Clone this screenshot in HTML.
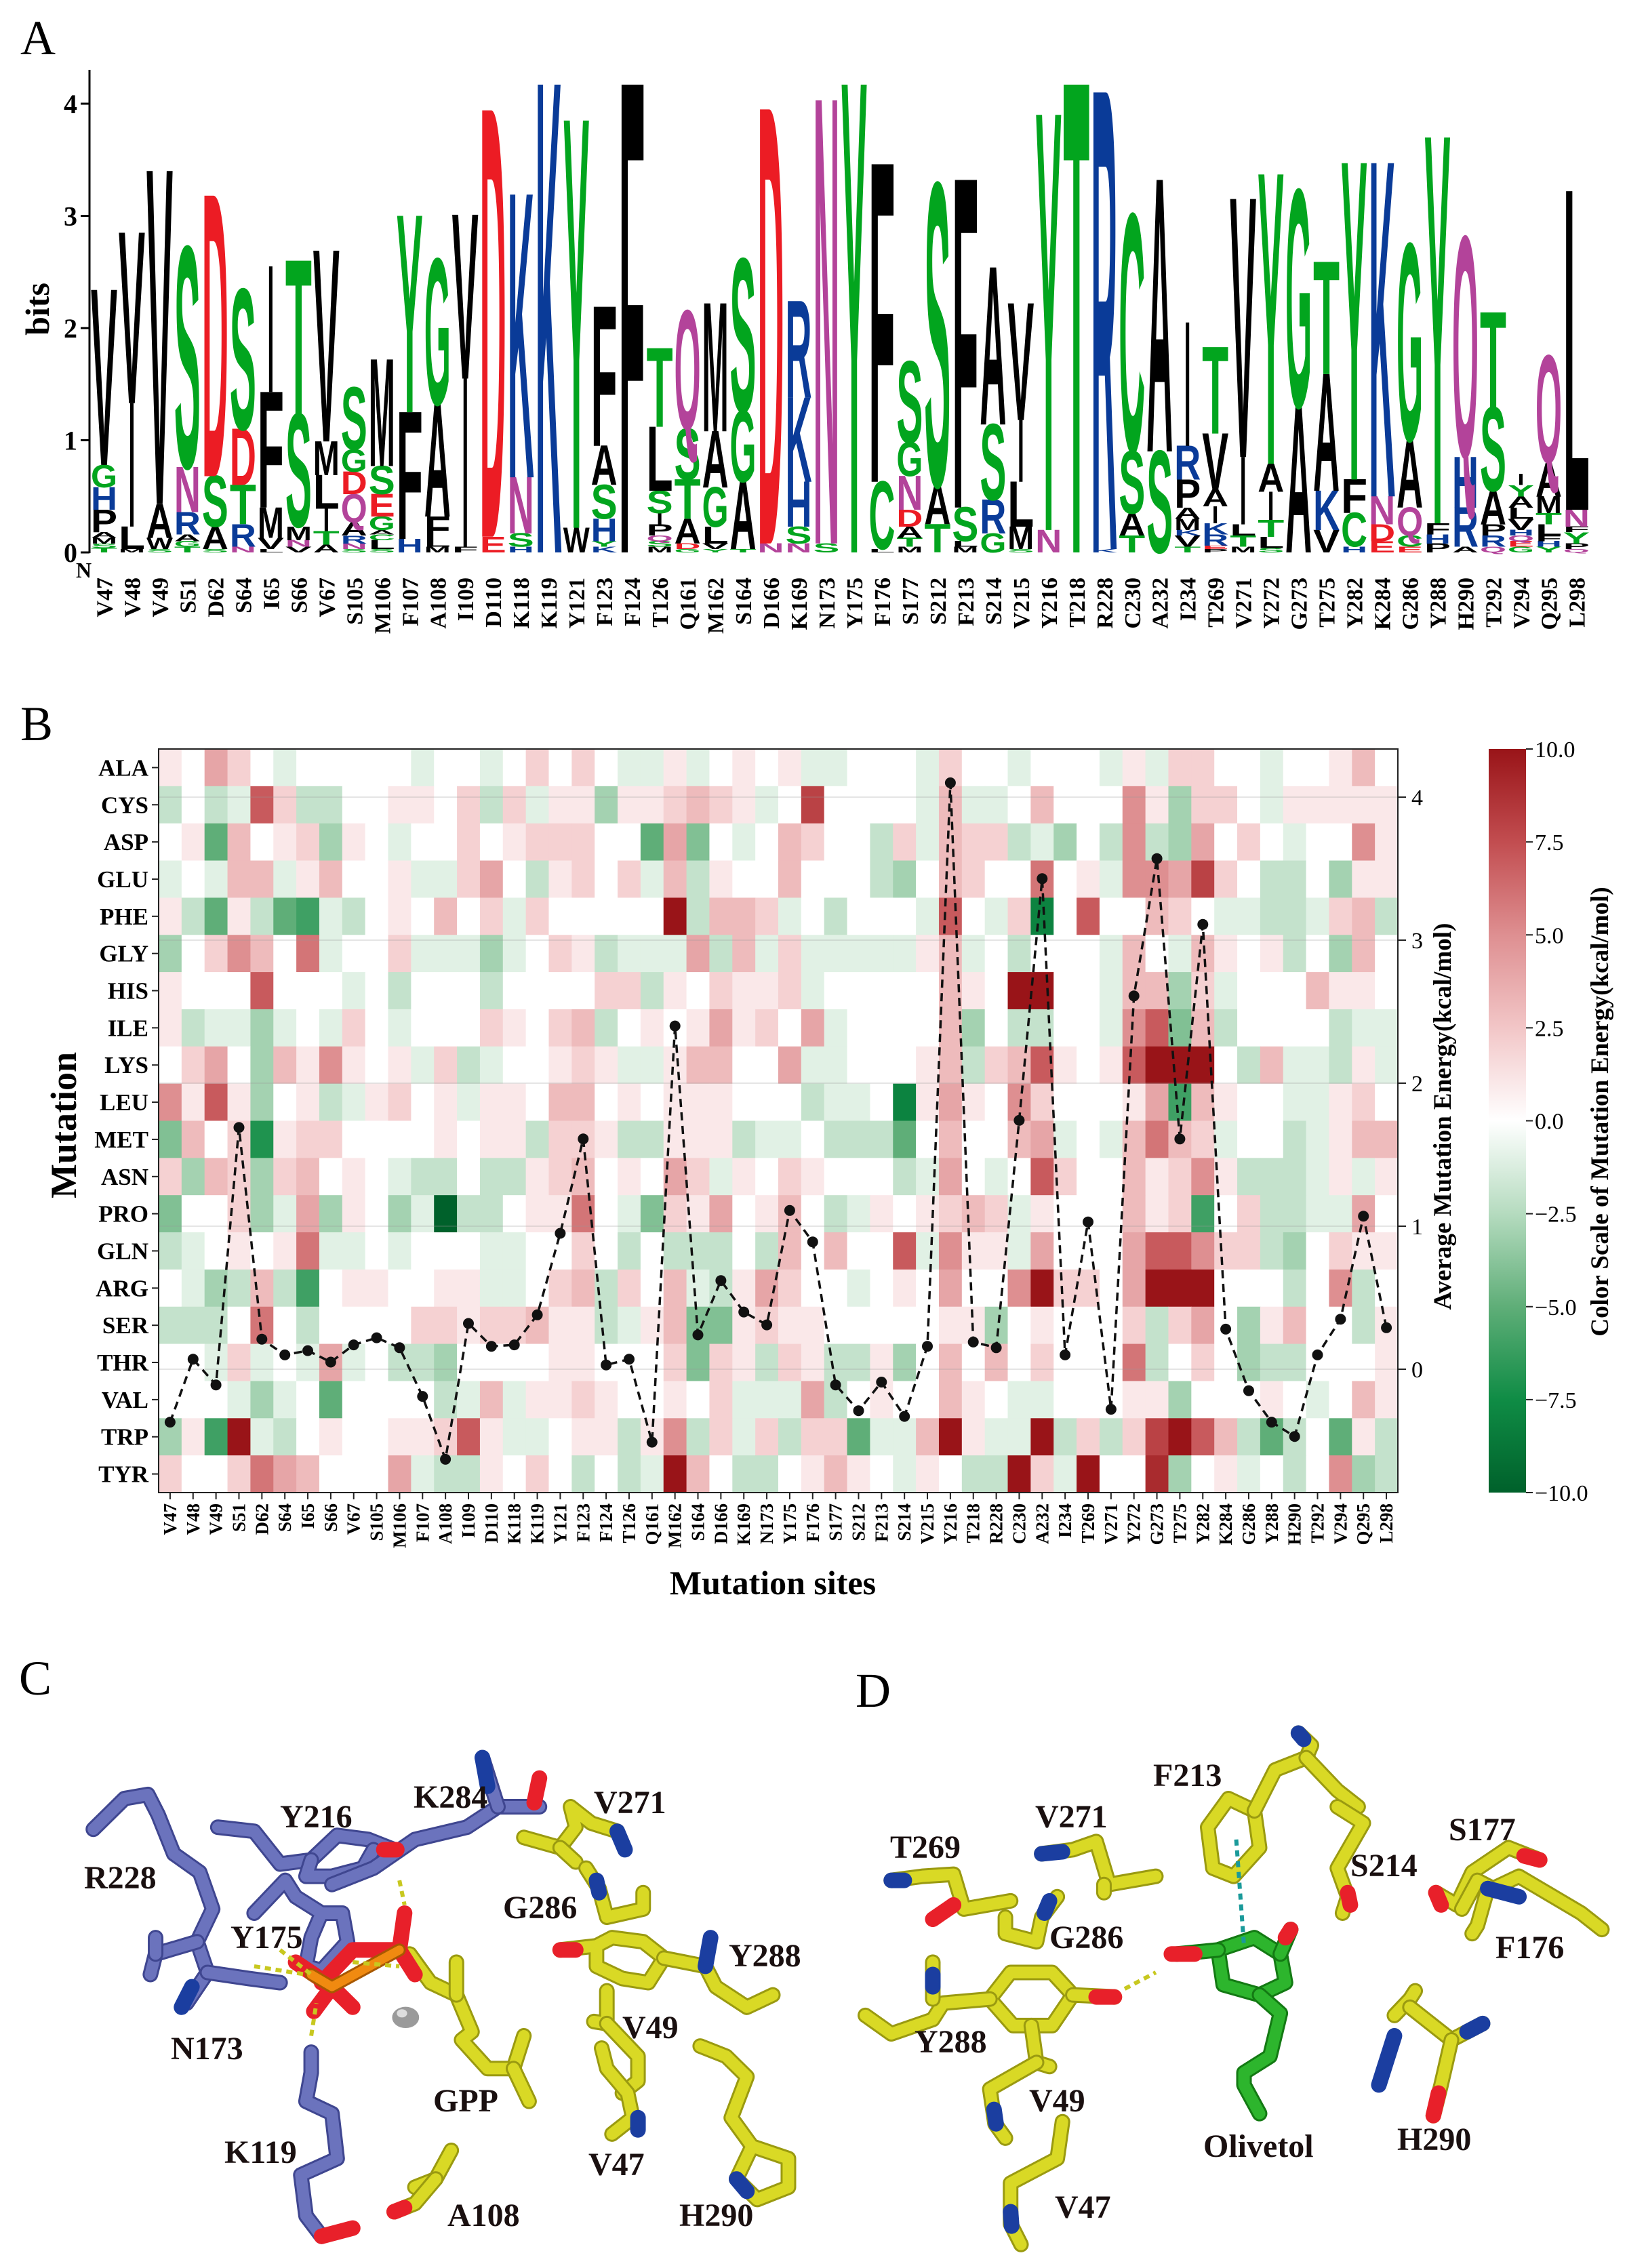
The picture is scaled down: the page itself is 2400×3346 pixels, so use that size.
<!DOCTYPE html>
<html><head><meta charset="utf-8"><style>
html,body{margin:0;padding:0;background:#fff;}
svg{display:block;}
</style></head><body>
<svg id="s" xmlns="http://www.w3.org/2000/svg" width="2400" height="3346" viewBox="0 0 2400 3346"></svg>
<script>
(function(){
const names="V47 V48 V49 S51 D62 S64 I65 S66 V67 S105 M106 F107 A108 I109 D110 K118 K119 Y121 F123 F124 T126 Q161 M162 S164 D166 K169 N173 Y175 F176 S177 S212 F213 S214 V215 Y216 T218 R228 C230 A232 I234 T269 V271 Y272 G273 T275 Y282 K284 G286 Y288 H290 T292 V294 Q295 L298".split(" ");
const logo=["T.04 S.04 M.05 A.05 P.2 H.2 G.2 V1.56","M.03 L.2 I1.1 V1.52","S.03 W.1 A.3 V2.97","T.05 G.05 A.06 R.2 N.4 S1.95","S.03 A.2 S.45 D2.5","N.05 R.2 T.35 D.5 S1.24","L.03 V.1 M.27 F1.03 I1.12","V.05 N.06 M.12 S1.0 T1.37","A.07 T.12 I.2 L.3 M.3 V1.7","S.03 N.05 R.07 A.12 Q.25 D.2 G.2 S.55","S.03 L.08 C.05 A.04 G.12 E.2 S.25 M.95","H.12 F1.13 Y1.75","M.05 L.07 F.2 A1.0 G1.29","F.05 I1.5 V1.46","E.14 D3.8","H.05 S.12 N.5 K2.52","K4.17","W.22 Y3.63","K.05 Y.05 H.2 S.3 A.35 F1.24","F4.17","M.05 S.05 Q.05 P.1 I.1 S.2 L.57 T.7","G.03 D.05 A.22 T.35 S.45 Q1.05","Y.03 V.05 L.15 G.35 A.5 M1.14","T.03 A.6 G.63 S1.35","N.08 D3.87","N.08 S.15 H.4 K.75 R.86","S.08 N3.95","Y4.17","L.03 C.6 F2.83","M.05 T.08 A.1 D.15 N.3 G.3 S.72","T.25 A.35 S2.67","M.05 L.05 S.3 F2.92","G.17 R.3 S.67 A1.4","S.03 M.2 L.4 I.55 V1.04","N.2 Y3.7","T4.17","K.03 R4.07","T.15 A.2 S.55 C2.1","S.9 A2.42","T.05 V.1 K.05 M.1 A.1 P.25 R.3 I1.1","P.03 E.03 R.1 K.1 I.15 A.15 V.5 T.77","M.05 T.1 L.1 I.6 V2.3","S.04 L.1 T.15 I.25 A.25 Y2.58","A1.3 G1.92","V.2 K.35 A1.04 T1.0","H.05 C.3 F.3 Y2.82","E.1 D.15 N.25 K2.97","E.05 C.1 Q.25 A.6 G1.74","P.08 H.08 F.1 Y3.44","A.05 R.35 H.45 Q1.95","Q.05 R.1 P.1 A.3 S.74 T.85","G.05 E.05 Q.05 H.05 V.1 L.1 A.1 Y.1 I.1","Y.05 H.05 F.05 L.1 T.1 M.15 A.3 Q.95","Q.03 P.05 Y.1 F.05 N.15 L2.84"];
function col(c){if("GSTYC".includes(c))return"#02a51e";if("NQ".includes(c))return"#b3439a";if("KRH".includes(c))return"#0a3b98";if("DE".includes(c))return"#ec1c24";return"#000";}
let o='<rect width="2400" height="3346" fill="#fff"/>';
const F='font-family="Liberation Serif,serif"';
const FS='font-family="Liberation Sans,sans-serif"';
o+=`<text x="30" y="80" ${F} font-size="72">A</text>`;
const X0=134,P=40.98,W=39,B0=815,BIT=165.5,CAP=68.8;
logo.forEach((s,i)=>{let y=B0;s.split(" ").forEach(t=>{const c=t[0],b=parseFloat(t.slice(1));const h=b*BIT;if(h<1.5)return;const w=c=="I"?W*0.25:W;const x=X0+i*P+(W-w)/2;
o+=`<text transform="translate(${x.toFixed(1)},${y.toFixed(1)}) scale(${(w/100).toFixed(4)},${(h/CAP).toFixed(4)})" ${FS} font-weight="bold" font-size="100" textLength="100" lengthAdjust="spacingAndGlyphs" fill="${col(c)}">${c}</text>`;y-=h;});});
o+=`<line x1="132" y1="103" x2="132" y2="816" stroke="#000" stroke-width="3"/>`;
for(let k=0;k<=4;k++){const y=B0-k*BIT;o+=`<line x1="119" y1="${y}" x2="132" y2="${y}" stroke="#000" stroke-width="3"/><text x="114" y="${y+14}" ${F} font-weight="bold" font-size="40" text-anchor="end">${k}</text>`;}
o+=`<text transform="translate(72,456) rotate(-90)" ${F} font-weight="bold" font-size="50" text-anchor="middle">bits</text>`;
o+=`<text x="112" y="852" ${F} font-weight="bold" font-size="32">N</text>`;
names.forEach((n,i)=>{const cx=X0+i*P+W/2+12;o+=`<text transform="translate(${cx.toFixed(1)},852) rotate(-90)" ${F} font-weight="bold" font-size="34" text-anchor="end">${n}</text>`;});
o+=`<text x="30" y="1092" ${F} font-size="72">B</text>`;
const rows=["ALA","CYS","ASP","GLU","PHE","GLY","HIS","ILE","LYS","LEU","MET","ASN","PRO","GLN","ARG","SER","THR","VAL","TRP","TYR"];
const hm=[
"1.42.a.....a..a.2.2.aa1a.1"+".1aa...a2..a...a1a22..a..13.",
"b.ba72bb..11.2b2a11c112321"+"a.8....a3aa.3...51c22.a11111",
".1e3.12c1.a..2.1222..e4d.a"+".32..b2a322bac.b5bc4.2.a..51",
"a.a33a13..1aa24.b12.2a3b1."+".3...bc.32..6.1a55482.bb.c11",
"1be1befab.1.3.2a2.....Xb33"+"2a.b...a7.a2h.7..32.aabba23b",
"c.253.6a..2aaaca.21baaa4b3"+"a2aaaaa13a.b...a3.a31.1b.c3.",
"1...7...a.b...b....22b1.21"+"12a.....31.XX..a33c2a...311.",
"1baaca.a2.a...21.23b.1.141"+"2.4a....3c.bb..a57d3b....baa",
".24.c3151.1a2ba..121aa133."+".4aa...13b2371.17XXX.b3aab1a",
"5171c.1ba12.1a11.33.1.111."+"..baa.h141.52...14f31..aa12.",
"d3.2g122....1.11b221bb111b"+"aa.bbbe.3..34a.a3632a..ba133",
"2c32c23.1.abb.bb123.1.42a1"+".21...ba4.a.72..31251bbba1a1",
"d..2ca4c1.cajbb.116.ad214."+"13.ba1.1232a1...312f.2bbaa4.",
"ba.1.16aa.a...aa..2.b.bbb."+"b3.3..7a511a4...477522bc.211",
".acb3bf.11..11aa.23b2.3ab1"+"42..a.1.4..5X22.4XXX...b.5b.",
"bbb.6.b....22122311ba13dd1"+"211.....11c.1...2b24.c13..b1",
"..a2a.a4a.bbc....11...2d21"+"b21bb1c.3.3.2...6b.2.cbb...1",
"...aca.e....ba3a1121..1.2a"+"aa4b.1..31.aa...11c...1.a.31",
"c1fXab.1..11271aa.11b15b2a"+"2b22eaa3X1aaXb2b28X73beb.e1b",
"2..2643...4abb1.2.b.baX3.b"+"b.131.a1.bbX2aX..9c.1a.b.5cb"];
const stops=[[-10,[0,97,43]],[-7.5,[15,140,69]],[-5,[95,174,120]],[-2.5,[181,219,191]],[0,[255,255,255]],[2.5,[242,198,199]],[5,[222,143,145]],[7.5,[194,77,80]],[10,[153,20,24]]];
function cmap(v){for(let i=0;i<stops.length-1;i++){const a=stops[i],b=stops[i+1];if(v<=b[0]){const t=(v-a[0])/(b[0]-a[0]);const c=a[1].map((x,k)=>Math.round(x+(b[1][k]-x)*t));return`rgb(${c})`;}}return"rgb(153,20,24)";}
function val(ch){if(ch==".")return 0;if(ch=="X")return 10;if(ch>="1"&&ch<="9")return+ch;return-(ch.charCodeAt(0)-96);}
const HX=234,HY=1105,CW=1828/54,RH=1097/20;
hm.forEach((r,j)=>{for(let i=0;i<54;i++){const v=val(r[i]||".");o+=`<rect x="${(HX+i*CW).toFixed(2)}" y="${(HY+j*RH).toFixed(2)}" width="${(CW+0.6).toFixed(2)}" height="${(RH+0.6).toFixed(2)}" fill="${cmap(v)}"/>`;}});
const AY=v=>2020-211*v;
for(let k=0;k<=4;k++)o+=`<line x1="${HX}" y1="${AY(k)}" x2="2062" y2="${AY(k)}" stroke="#999" stroke-opacity="0.25" stroke-width="2"/>`;
o+=`<rect x="${HX}" y="${HY}" width="1828" height="1097" fill="none" stroke="#222" stroke-width="2"/>`;
rows.forEach((r,j)=>{const y=HY+(j+0.5)*RH;o+=`<line x1="224" y1="${y}" x2="${HX}" y2="${y}" stroke="#222" stroke-width="2"/><text x="219" y="${(y+12).toFixed(1)}" ${F} font-weight="bold" font-size="35" text-anchor="end">${r}</text>`;});
names.forEach((n,i)=>{const x=HX+(i+0.5)*CW;o+=`<line x1="${x}" y1="2202" x2="${x}" y2="2212" stroke="#222" stroke-width="2"/><text transform="translate(${(x+9).toFixed(1)},2218) rotate(-90)" ${F} font-weight="bold" font-size="27" text-anchor="end">${n}</text>`;});
o+=`<text transform="translate(112,1660) rotate(-90)" ${F} font-weight="bold" font-size="54" text-anchor="middle">Mutation</text>`;
o+=`<text x="1140" y="2352" ${F} font-weight="bold" font-size="50" text-anchor="middle">Mutation sites</text>`;
for(let k=0;k<=4;k++)o+=`<line x1="2062" y1="${AY(k)}" x2="2074" y2="${AY(k)}" stroke="#222" stroke-width="2"/><text x="2082" y="${AY(k)+12}" ${F} font-size="34">${k}</text>`;
o+=`<text transform="translate(2140,1647) rotate(-90)" ${F} font-weight="bold" font-size="37" text-anchor="middle">Average Mutation Energy(kcal/mol)</text>`;
const avg=[-0.37,0.07,-0.11,1.69,0.21,0.10,0.13,0.05,0.17,0.22,0.15,-0.19,-0.63,0.32,0.16,0.17,0.38,0.95,1.61,0.03,0.07,-0.51,2.4,0.24,0.62,0.40,0.31,1.11,0.89,-0.11,-0.29,-0.09,-0.33,0.16,4.1,0.19,0.15,1.74,3.43,0.10,1.03,-0.28,2.61,3.57,1.61,3.11,0.28,-0.15,-0.37,-0.47,0.10,0.35,1.07,0.29];
const pts=avg.map((v,i)=>[(HX+(i+0.5)*CW).toFixed(1),AY(v).toFixed(1)]);
o+=`<polyline points="${pts.map(p=>p.join(",")).join(" ")}" fill="none" stroke="#111" stroke-width="3.5" stroke-dasharray="12,8"/>`;
pts.forEach(p=>o+=`<circle cx="${p[0]}" cy="${p[1]}" r="8" fill="#111"/>`);
o+=`<defs><linearGradient id="cb" x1="0" y1="1" x2="0" y2="0">${stops.map(s=>`<stop offset="${(s[0]+10)/20}" stop-color="rgb(${s[1]})"/>`).join("")}</linearGradient></defs>`;
o+=`<rect x="2196" y="1105" width="55" height="1097" fill="url(#cb)"/>`;
["10.0","7.5","5.0","2.5","0.0","\u22122.5","\u22125.0","\u22127.5","\u221210.0"].forEach((t,k)=>{const y=1105+k*1097/8;o+=`<line x1="2251" y1="${y}" x2="2261" y2="${y}" stroke="#222" stroke-width="2"/><text x="2264" y="${y+12}" ${F} font-size="34">${t}</text>`;});
o+=`<text transform="translate(2372,1640) rotate(-90)" ${F} font-weight="bold" font-size="37" text-anchor="middle">Color Scale of Mutation Energy(kcal/mol)</text>`;
o+=`<text x="28" y="2500" ${F} font-size="72">C</text><text x="1262" y="2518" ${F} font-size="72">D</text>`;
const dk={"#6b73bd":"#3f4690","#d9d925":"#9a9a10","#2db52d":"#137a13","#f08a10":"#a85800"};
function stick(g,pl,c,w){w=w||21;const p=pl.map(q=>q.join(",")).join(" ");return`<polyline points="${p}" fill="none" stroke="${dk[c]||c}" stroke-width="${w+2}" stroke-linecap="round" stroke-linejoin="round" vector-effect="non-scaling-stroke"/><polyline points="${p}" fill="none" stroke="${c}" stroke-width="${w-4}" stroke-linecap="round" stroke-linejoin="round" vector-effect="non-scaling-stroke"/>`;}
function dash(pl,c){return`<polyline points="${pl.map(q=>q.join(",")).join(" ")}" fill="none" stroke="${c}" stroke-width="6" stroke-dasharray="9,7" vector-effect="non-scaling-stroke"/>`;}
const B="#6b73bd",Y="#d9d925",G="#2db52d",R="#e8202a",N="#1b3ea0";
let c="";
c+=stick(0,[[180,495],[240,420],[285,410],[305,460],[335,555],[385,600],[410,690],[380,770],[400,845],[360,920]],B);
c+=stick(0,[[380,770],[300,800],[290,850]],B)+stick(0,[[300,800],[300,760]],B)+stick(0,[[400,845],[480,860],[540,870]],B);
c+=stick(0,[[420,490],[490,500],[540,580],[600,570],[650,510],[710,520],[760,545]],B)+stick(0,[[600,570],[590,610],[640,610],[700,590],[720,545]],B);
c+=stick(0,[[640,630],[720,590],[800,520],[900,490],[960,440],[1040,440]],B)+stick(0,[[960,440],[940,360],[930,320]],B)+stick(0,[[1030,430],[1040,370]],R);
c+=stick(0,[[490,700],[550,620],[570,660],[620,700],[660,700],[670,770],[620,840],[590,830],[600,760],[620,700]],B);
c+=stick(0,[[600,1040],[600,1090],[590,1160],[640,1190],[650,1300],[580,1340],[590,1440],[620,1490]],B)+stick(0,[[620,1490],[680,1470]],R);
c+=stick(0,[[370,880],[350,930]],N)+stick(0,[[930,320],[940,390]],N)+stick(0,[[740,545],[765,545]],R);
c+=stick(0,[[790,800],[830,870],[880,900],[910,990],[890,1010],[940,1080],[990,1080],[1010,1000]],Y)+stick(0,[[990,1080],[1020,1160]],Y)+stick(0,[[880,900],[880,820]],Y);
c+=stick(0,[[570,820],[640,880],[680,930]],R)+stick(0,[[640,880],[605,940]],R)+stick(0,[[620,870],[680,790],[770,790],[780,700]],R)+stick(0,[[770,790],[800,850]],R)+stick(0,[[600,850],[640,880],[770,790]],"#f08a10",17);
c+=`<ellipse cx="782" cy="955" rx="26" ry="26" fill="#9a9a9a"/><ellipse cx="775" cy="945" rx="10" ry="10" fill="#ddd"/>`;
c+=stick(0,[[1010,515],[1080,540],[1110,490],[1100,440],[1140,480],[1190,500]],Y)+stick(0,[[1080,540],[1110,575]],Y)+stick(0,[[1190,500],[1205,545]],N);
c+=stick(0,[[1130,590],[1155,640],[1170,710],[1240,690],[1240,650]],Y)+stick(0,[[1150,620],[1155,650]],N);
c+=stick(0,[[1080,790],[1150,780],[1180,760],[1240,770],[1280,810],[1250,870],[1200,860],[1150,830],[1150,780]],Y)+stick(0,[[1280,810],[1360,830],[1380,880],[1440,930],[1490,900]],Y)+stick(0,[[1360,830],[1370,760]],N)+stick(0,[[1080,790],[1110,790]],R);
c+=stick(0,[[1170,890],[1170,970],[1145,965]],Y)+stick(0,[[1170,970],[1230,1050],[1230,1110],[1200,1140]],Y);
c+=stick(0,[[1160,1030],[1170,1080],[1210,1140],[1220,1200],[1180,1240]],Y)+stick(0,[[1230,1200],[1230,1230]],N);
c+=stick(0,[[1350,1025],[1400,1050],[1440,1100],[1410,1200],[1450,1270],[1520,1300],[1520,1370],[1460,1400],[1420,1350],[1450,1270]],Y)+stick(0,[[1420,1350],[1440,1380]],N);
c+=stick(0,[[870,1280],[840,1350],[800,1370]],Y)+stick(0,[[840,1350],[800,1410],[760,1430]],Y)+stick(0,[[760,1430],[780,1420]],R);
c+=dash([[600,1000],[610,920]],"#c8c820")+dash([[770,620],[780,680]],"#c8c820")+dash([[490,830],[590,850]],"#c8c820")+dash([[680,820],[770,830]],"#c8c820")+dash([[540,790],[600,850]],"#c8c820");
o+=`<g transform="translate(0,2400) scale(${1/1.307},${1/1.657})">${c}</g>`;
let d="";
d+=stick(0,[[150,620],[210,610],[270,605],[290,690],[380,670]],Y)+stick(0,[[150,620],[175,620]],N)+stick(0,[[270,680],[230,715]],R);
d+=stick(0,[[440,555],[500,545],[545,525],[570,630],[660,610]],Y)+stick(0,[[440,555],[480,550]],N)+stick(0,[[560,630],[560,650]],Y);
d+=stick(0,[[470,660],[440,710],[430,770],[370,750],[370,710]],Y)+stick(0,[[445,700],[455,670]],N);
d+=stick(0,[[340,910],[380,845],[460,845],[500,900],[460,975],[385,975],[340,910]],Y)+stick(0,[[340,910],[250,920],[230,960],[150,995],[100,950]],Y)+stick(0,[[230,910],[230,820]],Y)+stick(0,[[230,880],[230,850]],N)+stick(0,[[500,900],[580,905]],Y)+stick(0,[[545,905],[580,905]],R);
d+=stick(0,[[420,975],[430,1065],[455,1075]],Y)+stick(0,[[430,1065],[340,1130],[350,1215],[370,1250]],Y)+stick(0,[[348,1180],[352,1215]],N);
d+=stick(0,[[480,1210],[470,1300],[380,1360],[380,1460],[400,1510]],Y)+stick(0,[[380,1430],[382,1465]],N);
d+=stick(0,[[800,420],[760,490],[770,590],[810,610],[860,540],[850,450],[800,420]],Y)+stick(0,[[850,450],[890,350],[950,320],[960,290],[935,260]],Y)+stick(0,[[950,320],[1010,400],[1050,440]],Y)+stick(0,[[1010,440],[1060,480],[1010,590],[1030,660],[1020,700]],Y)+stick(0,[[1030,650],[1035,680]],R)+stick(0,[[945,275],[935,260]],N);
d+=stick(0,[[1200,650],[1240,680],[1270,600],[1340,540],[1400,570]],Y)+stick(0,[[1250,690],[1280,620],[1310,640],[1360,610],[1480,700],[1520,740]],Y)+stick(0,[[1300,640],[1280,730],[1270,750]],Y)+stick(0,[[1300,640],[1360,660]],N)+stick(0,[[1200,650],[1210,680]],R)+stick(0,[[1370,560],[1400,570]],R);
d+=stick(0,[[1120,950],[1150,910],[1160,890]],Y)+stick(0,[[1150,930],[1230,1010],[1290,970]],Y)+stick(0,[[1260,990],[1290,970]],N)+stick(0,[[1230,1010],[1210,1120],[1195,1195]],Y)+stick(0,[[1205,1140],[1195,1195]],R)+stick(0,[[1120,1000],[1100,1080],[1090,1120]],N);
d+=stick(0,[[780,790],[850,760],[900,800],[910,870],[860,900],[790,875],[780,790]],G)+stick(0,[[780,790],[700,800]],G)+stick(0,[[735,800],[690,800]],R)+stick(0,[[900,800],[920,740]],G)+stick(0,[[910,760],[920,740]],R)+stick(0,[[860,900],[900,945],[880,1050],[830,1090],[830,1120],[860,1190]],G);
d+=dash([[815,520],[830,780]],"#1a9a9a")+dash([[600,885],[660,845]],"#c8c820");
o+=`<g transform="translate(1200,2400) scale(${1/1.307},${1/1.657})">${d}</g>`;
const labs=[["K284",610,2667],["Y216",413,2696],["V271",876,2675],["R228",124,2786],["G286",742,2830],["Y288",1075,2901],["Y175",340,2874],["N173",252,3038],["V49",918,3007],["GPP",639,3115],["K119",331,3191],["V47",868,3209],["A108",660,3284],["H290",1002,3284],
["F213",1701,2635],["V271",1527,2696],["T269",1313,2741],["S177",2137,2715],["S214",1992,2768],["G286",1548,2874],["F176",2206,2889],["Y288",1349,3028],["V49",1518,3115],["Olivetol",1775,3182],["H290",2061,3172],["V47",1556,3272]];
labs.forEach(l=>o+=`<text x="${l[1]}" y="${l[2]}" ${F} font-weight="bold" font-size="48" fill="#1a1010">${l[0]}</text>`);
document.getElementById("s").innerHTML=o;
})();
</script>
</body></html>
